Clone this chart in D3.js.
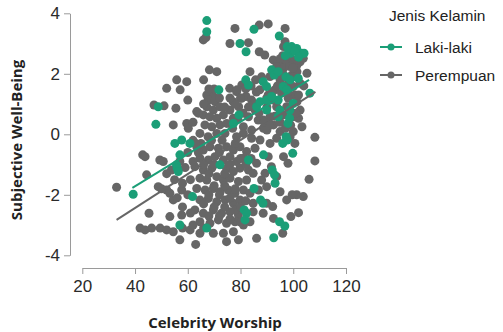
<!DOCTYPE html>
<html>
<head>
<meta charset="utf-8">
<script src="https://cdn.jsdelivr.net/npm/d3@7.9.0/dist/d3.min.js"></script>
<style>
  body { margin: 0; background: #fff; }
  svg { display: block; }
  .tick text { font-family: "Liberation Sans", Arial, sans-serif; font-size: 17px; fill: #2a2a2a; }
  .axis path, .axis line { stroke: #9a9a9a; stroke-width: 1; }
  .title { font-family: "Open Sans", sans-serif; font-weight: 700; font-size: 15px; fill: #222; }
  .legend text { font-family: "Liberation Sans", Arial, sans-serif; font-size: 15.5px; fill: #222; }
</style>
</head>
<body>
<svg width="503" height="332"></svg>
<script>
// tick values
const xTicks = [20, 40, 60, 80, 100, 120];
const yTicks = [-4, -2, 0, 2, 4];

const groups = ['Laki-laki', 'Perempuan'];
const groupColors = ['#1b9e77', '#666666'];

// fitted lines: [slope, intercept at xStart, xStart, xEnd]
const lakiFit = [0.0533, -1.77, 39, 106];
const perempuanFit = [0.0561, -2.83, 33, 108.4];

// [Celebrity Worship, Subjective Well-Being]
const perempuanPoints = [
  [65.9,3.12],[66.9,3.2],[77.9,3.5],[76,3.0],[83,3.03],[87.1,3.61],[90.5,3.65],[96.9,3.5],
  [96.9,3.06],[96.3,2.9],[87.1,2.73],[89.2,2.62],[83.6,2.07],[85.7,1.8],[68.2,2.13],[71,2.07],
  [66,1.8],[55.8,1.8],[59.6,1.74],[52,1.52],[57.1,1.47],[60,1.13],[55.5,0.86],[47.2,0.97],
  [51,0.94],[54.5,0.31],[59.6,0.36],[60.2,0.2],[63.4,0.75],
  [67.2,1.3],[68.4,1.36],[69.7,1.25],[67.7,1.13],[70.3,1.08],[67.2,0.91],[69.7,0.8],[72.2,0.91],
  [65.9,0.64],[68.4,0.58],[71,0.53],[73.5,0.64],[76,0.8],[66.5,0.31],[69.1,0.25],[72.2,0.31],
  [74.8,0.36],[77.3,0.53],[64.6,0.03],[67.7,-0.08],[71,0.03],[74.1,0.03],
  [75.9,1.52],[78.5,1.41],[80.4,1.19],[77.2,1.08],[79.3,0.91],[82.1,1.25],[84.2,1.13],[85.5,0.8],
  [83,0.58],[81.1,0.25],[84.2,0.14],[86.7,0.47],[88.7,0.2],[90,0.14],[88.7,0.47],[91.2,0.58],
  [92.5,0.31],[95,0.09],[93.7,-0.13],[91.2,-0.3],[87.4,-0.19],[84.2,-0.13],[81.1,0.03],[78.5,-0.08],
  [92.4,2.46],[95,2.35],[97.5,2.4],[100,2.46],[102.6,2.4],[103.8,2.51],[93.7,2.24],[96.3,2.18],
  [98.8,2.24],[101.4,2.29],[105.2,2.02],[91.2,1.91],[95,1.8],[99.5,1.96],[101.4,2.07],[97.5,1.63],
  [100,1.58],[102.6,1.69],[100.6,1.3],[98.1,1.19],[95.6,1.36],[93,1.47],[90.5,1.3],[97.5,0.91],
  [101.4,1.08],[102.6,0.8],[93.7,0.91],[96.3,0.64],[100,0.58],[92.4,1.13],[102,0.53],[103.3,0.25],
  [100,0.09],[98.8,-0.08],[100.6,-0.3],
  [108.2,-0.1],[108.2,-0.88],[106,-1.49],[103.8,-2.06],[101.3,-2.0],[102,-2.59],
  [33,-1.75],[42.9,-0.68],[43.8,-0.74],[44.4,-1.34],[45.3,-2.61],[41.9,-3.1],[43.8,-3.16],
  [48.8,-1.73],[49.4,-0.85],[52,-1.84],[53.2,-1.95],[54.5,-2.17],[57.7,-1.84],[58,-1.62],
  [53.8,-1.18],[50.7,-0.9],[46.3,-3.1],[49.5,-3.1],[52,-3.16],[54.5,-3.22],[53.2,-2.72],
  [57,-3.49],[57.7,-2.67],[60.9,-3.16],[63,-3.64],[64.6,-3.27],
  [63.4,-0.41],[65.9,-0.52],[68.4,-0.41],[71.6,-0.46],[74.7,-0.41],[77.3,-0.52],[79.8,-0.41],
  [82.3,-0.57],[85.5,-0.46],[64.6,-0.79],[67.8,-0.85],[70.3,-0.74],[73.5,-0.85],[76,-0.74],
  [78.5,-0.9],[81.1,-0.79],[86.1,-0.96],[62.7,-1.07],[65.9,-1.18],[69.1,-1.12],[74.7,-1.12],
  [77.3,-1.23],[79.8,-1.12],[83,-1.18],[84.8,-1.29],[64.6,-1.45],[67.2,-1.51],[71,-1.4],
  [73.5,-1.51],[76,-1.45],[79.2,-1.56],[82.3,-1.51],[88,-1.51],[63.4,-1.79],[66.6,-1.84],
  [69.7,-1.79],[72.3,-1.9],[75.4,-1.84],[77.9,-1.95],[81.1,-1.84],[83.6,-1.95],[86.8,-1.84],
  [64.6,-2.17],[67.8,-2.12],[71,-2.23],[74.2,-2.17],[77.3,-2.28],[79.8,-2.17],[84.8,-2.28],
  [89.9,-2.28],[62.7,-2.5],[65.9,-2.61],[69.7,-2.5],[72.8,-2.61],[76,-2.56],[79.2,-2.67],
  [84.8,-2.56],[88.6,-2.61],[64.6,-2.89],[68.4,-2.94],[71.6,-2.83],[74.7,-2.94],[77.9,-2.89],
  [81.1,-3.0],[83.6,-2.89],[69.7,-3.27],[73.5,-3.27],[77.3,-3.22],[79.2,-3.49],[86.1,-3.44],
  [74.7,-3.55],
  [91.7,-1.07],[93.7,-1.4],[95,-1.9],[92.2,-2.39],[92.5,-2.78],[97.5,-2.17],[99.6,-2.0],
  [99.1,-2.72],[96,-3.27],[89.9,-1.73],[89.3,-1.29],[90.5,-0.74],[96.3,-0.74],[98,-0.96],
  [80.5,1.63],[78.7,1.47],[87.3,1.47],[89.9,1.19],
  [62,-0.2],[64,-0.6],[66,-1.0],[68,-1.3],[70,-1.0],[72,-0.6],[74,-1.3],[76,-1.0],[78,-0.3],
  [80,-0.8],[82,-1.0],[84,-0.8],[66,-2.3],[68,-2.0],[70,-2.4],[72,-2.0],[74,-2.4],[76,-2.1],
  [78,-2.5],[80,-2.4],[82,-2.2],[70,-1.7],[74,-1.7],[78,-1.8],[68,-2.7],[72,-2.7],[76,-2.8],
  [80,-2.9],[66,-3.1],[62,-3.0],[58,-2.4],[60,-2.0],[61,-1.5],[59,-1.1],[62,-0.9],[65,-0.3],
  [69,-0.2],[73,-0.2],[77,0.2],[79,0.5],[81,0.7],[83,0.9],[85,1.0],[87,0.7],[89,0.4],[91,0.3],
  [93,0.6],[95,0.4],[97,0.2],[99,0.3],[101,0.7],[90,0.9],[92,1.4],[94,1.6],[96,2.0],[98,1.4],
  [100,1.9],[102,1.3],[104,1.6],[96,2.6],[98,2.6],[100,2.2],[95,2.5],[93,2.0],[88,1.9],[86,1.4],
  [84,1.6],[82,1.5],[80,1.2],[78,1.0],[76,1.2],[74,0.9],[72,1.2],[70,1.5],[68,1.5],[66,1.0],
  [64,0.7],[62,0.4],[63,-0.3],[60,-0.6],[57,-0.9],[55,-1.5],[52,-1.3],[50,-1.8],[56,-2.1],
  [58,-3.1],[61,-2.6]
];

const lakiPoints = [
  [67.2,3.76],[67.2,3.39],[79.8,3.0],[82.1,2.73],[85.1,3.47],[94.7,3.25],
  [97.7,2.9],[99.4,2.9],[101.3,2.84],[103.2,2.68],[99.0,2.68],[104.1,2.68],[98.2,2.79],
  [100.5,2.75],[102,2.55],[97,2.6],
  [82,1.8],[83,1.63],[88.6,1.74],[89.9,1.58],[91.8,2.13],[92.8,1.96],[94.3,2.07],
  [97.2,1.9],[98.8,1.8],[96.2,1.58],[97.5,1.47],[101.9,1.85],[71.8,1.47],
  [86.1,0.91],[87.4,1.08],[89.9,1.13],[94.3,1.13],[94.9,0.8],[91.8,1.25],[100,1.02],[98.7,0.8],
  [106.3,1.36],[48.8,0.91],[47.9,0.33],
  [57.7,-0.19],[60.8,-0.3],[55.1,-0.3],[57,-0.68],[55.7,-1.01],[56,-1.12],[56.4,-1.23],
  [39.3,-1.98],[61.8,-2.06],[57,-3.0],[67.2,-3.1],[72.2,-1.01],[79.4,0.64],[77.3,0.36],
  [83,-0.85],[88.7,-0.68],[85.1,-1.79],[87.6,-2.17],[88.5,-2.28],[81.4,-2.5],[82.3,-2.61],
  [81.7,-2.83],[92,-1.18],[92.9,-1.34],[93.1,-1.62],[94.8,-2.89],[96.8,-3.03],[92.6,-3.42],
  [97.3,-0.08],[96.0,-0.3],[99.8,-0.63],[97.7,-0.19],[94.3,0.58],[98.0,0.36],[98.6,0.53],[89.9,0.8]
];

const svg = d3.select('svg');

const x = d3.scaleLinear().domain([20, 120]).range([82.3, 346]);
const y = d3.scaleLinear().domain([-4, 4]).range([255.3, 13.3]);
const color = d3.scaleOrdinal().domain(groups).range(groupColors);

// axes (plain hyphen for negatives, like the original)
svg.append('g')
  .attr('class', 'axis')
  .attr('transform', 'translate(70,0)')
  .call(d3.axisLeft(y).tickValues(yTicks).tickFormat(d => String(d))
    .tickSize(6).tickSizeOuter(0).tickPadding(4));

svg.append('g')
  .attr('class', 'axis')
  .attr('transform', 'translate(0,268)')
  .call(d3.axisBottom(x).tickValues(xTicks).tickFormat(d => String(d))
    .tickSize(6).tickSizeOuter(0).tickPadding(6));

// points
const plot = svg.append('g');
plot.selectAll('circle.p')
  .data(perempuanPoints)
  .join('circle')
  .attr('class', 'p')
  .attr('cx', d => x(d[0]))
  .attr('cy', d => y(d[1]))
  .attr('r', 4.5)
  .attr('fill', color('Perempuan'));

plot.selectAll('circle.l')
  .data(lakiPoints)
  .join('circle')
  .attr('class', 'l')
  .attr('cx', d => x(d[0]))
  .attr('cy', d => y(d[1]))
  .attr('r', 4.5)
  .attr('fill', color('Laki-laki'));

// fitted lines
function fitLine(fit) {
  let [slope, y0, x0, x1] = fit;
  return [[x0, y0], [x1, y0 + slope * (x1 - x0)]];
}
const line = d3.line().x(d => x(d[0])).y(d => y(d[1]));

svg.append('path')
  .attr('d', line(fitLine(perempuanFit)))
  .attr('stroke', color('Perempuan'))
  .attr('stroke-width', 2)
  .attr('fill', 'none');

svg.append('path')
  .attr('d', line(fitLine(lakiFit)))
  .attr('stroke', color('Laki-laki'))
  .attr('stroke-width', 2)
  .attr('fill', 'none');

// axis titles
svg.append('text')
  .attr('class', 'title')
  .attr('x', 215)
  .attr('y', 328)
  .attr('text-anchor', 'middle')
  .text('Celebrity Worship');

svg.append('text')
  .attr('class', 'title')
  .attr('transform', 'translate(22,140) rotate(-90)')
  .attr('text-anchor', 'middle')
  .text('Subjective Well-Being');

// legend
const legend = svg.append('g').attr('class', 'legend');
legend.append('text').attr('x', 389).attr('y', 21).text('Jenis Kelamin');

groups.forEach((g, i) => {
  let ly = 47 + i * 28;
  legend.append('line')
    .attr('x1', 380).attr('x2', 402)
    .attr('y1', ly).attr('y2', ly)
    .attr('stroke', color(g)).attr('stroke-width', 2);
  legend.append('circle')
    .attr('cx', 391).attr('cy', ly).attr('r', 3.5)
    .attr('fill', color(g));
  legend.append('text')
    .attr('x', 415).attr('y', ly + 5.5)
    .text(g);
});
</script>
</body>
</html>
